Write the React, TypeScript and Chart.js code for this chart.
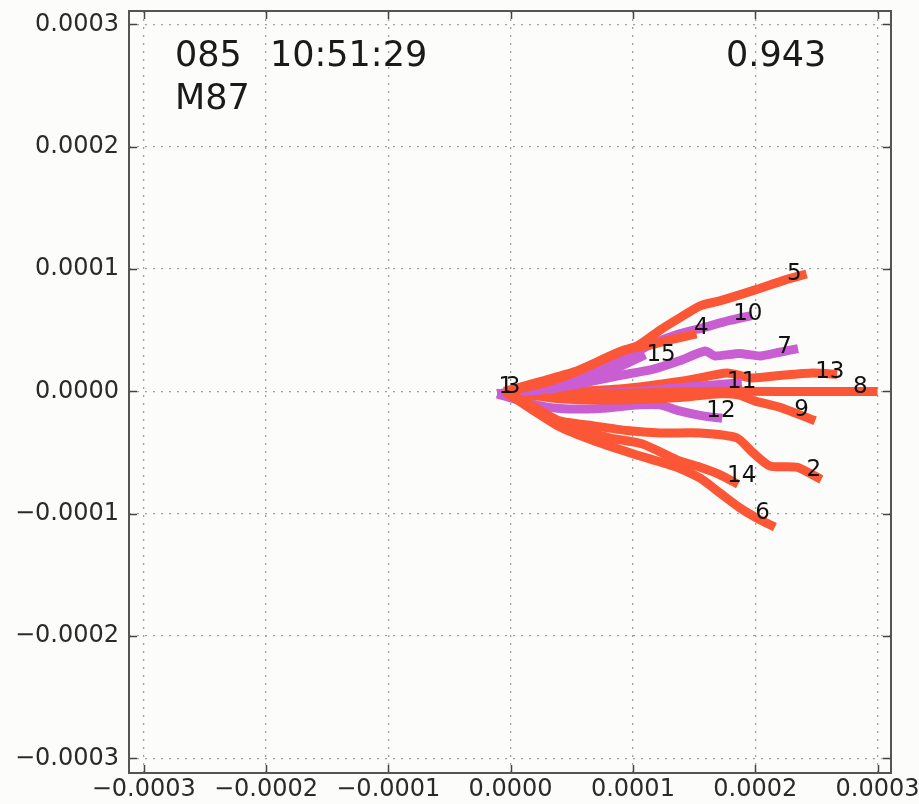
import React, { useEffect, useRef } from "react";
import { Chart, registerables } from "chart.js";

Chart.register(...registerables);

// values in units of 1e-4 (axis labels show the real value)
const tickValues = [-3, -2, -1, 0, 1, 2, 3];
const tickLabels = ["\u22120.0003", "\u22120.0002", "\u22120.0001", "0.0000", "0.0001", "0.0002", "0.0003"];

const RED = "#fb5636";
const PURPLE = "#c95ed3";

const b2x = [-0.05, 0.16, 0.4, 0.67, 0.95, 1.22, 1.55, 1.85, 1.98, 2.12, 2.34, 2.54];
const b2y = [0, -0.11, -0.24, -0.28, -0.32, -0.34, -0.34, -0.38, -0.5, -0.61, -0.62, -0.72];
const b4x = [-0.05, 0.28, 0.56, 0.77, 0.93, 1.14, 1.34, 1.52];
const b4y = [0, 0.07, 0.17, 0.27, 0.34, 0.38, 0.43, 0.47];
const b5x = [-0.05, 0.24, 0.52, 0.73, 0.89, 1.05, 1.22, 1.38, 1.55, 1.71, 2.0, 2.24, 2.42];
const b5y = [0, 0.08, 0.16, 0.25, 0.32, 0.38, 0.5, 0.6, 0.7, 0.74, 0.83, 0.91, 0.96];
const b6x = [-0.05, 0.16, 0.4, 0.67, 1.0, 1.36, 1.55, 1.71, 1.87, 2.02, 2.16];
const b6y = [0, -0.14, -0.29, -0.4, -0.51, -0.62, -0.71, -0.83, -0.95, -1.04, -1.11];
const b7x = [-0.11, 0.32, 0.65, 0.89, 1.16, 1.38, 1.59, 1.67, 1.87, 2.04, 2.2, 2.35];
const b7y = [-0.02, 0.02, 0.08, 0.13, 0.18, 0.25, 0.33, 0.29, 0.31, 0.29, 0.32, 0.35];
const b8x = [-0.05, 0.73, 1.55, 2.2, 3.0];
const b8y = [0, -0.02, 0, 0, 0];
const b9x = [-0.05, 0.4, 0.89, 1.38, 1.71, 1.87, 2.0, 2.2, 2.49];
const b9y = [0, -0.06, -0.07, -0.05, -0.02, -0.03, -0.08, -0.13, -0.24];
const b10x = [-0.11, 0.24, 0.56, 0.89, 1.14, 1.38, 1.57, 1.79, 1.97];
const b10y = [-0.02, 0.03, 0.11, 0.25, 0.38, 0.47, 0.52, 0.58, 0.62];
const b11x = [-0.11, 0.4, 0.89, 1.38, 1.63, 1.89];
const b11y = [-0.02, -0.02, -0.01, 0.03, 0.05, 0.07];
const b12x = [-0.11, 0.16, 0.4, 0.73, 1.05, 1.22, 1.38, 1.57, 1.73];
const b12y = [-0.02, -0.1, -0.14, -0.14, -0.11, -0.11, -0.16, -0.2, -0.22];
const b13x = [-0.05, 0.4, 0.89, 1.44, 1.77, 1.97, 2.2, 2.47, 2.67];
const b13y = [0, 0, 0.02, 0.09, 0.15, 0.11, 0.13, 0.15, 0.14];
const b14x = [-0.05, 0.16, 0.4, 0.81, 1.08, 1.36, 1.55, 1.71, 1.86];
const b14y = [0, -0.11, -0.26, -0.38, -0.43, -0.56, -0.62, -0.68, -0.76];
const b15x = [-0.11, 0.28, 0.65, 0.89, 1.1];
const b15y = [-0.02, 0.02, 0.1, 0.2, 0.3];

const seriesList = [
  { name: "2", xs: b2x, ys: b2y, color: RED },
  { name: "4", xs: b4x, ys: b4y, color: RED },
  { name: "5", xs: b5x, ys: b5y, color: RED },
  { name: "6", xs: b6x, ys: b6y, color: RED },
  { name: "7", xs: b7x, ys: b7y, color: PURPLE },
  { name: "8", xs: b8x, ys: b8y, color: RED },
  { name: "9", xs: b9x, ys: b9y, color: RED },
  { name: "10", xs: b10x, ys: b10y, color: PURPLE },
  { name: "11", xs: b11x, ys: b11y, color: PURPLE },
  { name: "12", xs: b12x, ys: b12y, color: PURPLE },
  { name: "13", xs: b13x, ys: b13y, color: RED },
  { name: "14", xs: b14x, ys: b14y, color: RED },
  { name: "15", xs: b15x, ys: b15y, color: PURPLE },
];

const labelTexts = ["1", "3", "5", "10", "4", "15", "7", "13", "11", "8", "12", "9", "14", "2", "6"];
const labelX = [-0.1, -0.04, 2.26, 1.82, 1.5, 1.11, 2.18, 2.49, 1.77, 2.8, 1.6, 2.32, 1.77, 2.42, 2.0];
const labelY = [-0.01, -0.01, 0.91, 0.58, 0.47, 0.25, 0.31, 0.11, 0.03, -0.01, -0.21, -0.2, -0.74, -0.69, -1.04];

const titleLeftA = "085";
const titleLeftB = "10:51:29";
const titleLeft2 = "M87";
const titleRight = "0.943";

const FONT = "'DejaVu Sans', 'Liberation Sans', sans-serif";

const decorPlugin = {
  id: "decor",
  afterDatasetsDraw(chart: any) {
    const ctx = chart.ctx;
    const xs = chart.scales.x;
    const ys = chart.scales.y;
    const area = chart.chartArea;
    ctx.save();
    ctx.beginPath();
    ctx.rect(area.left, area.top, area.right - area.left, area.bottom - area.top);
    ctx.clip();
    ctx.fillStyle = "#111";
    ctx.font = `23px ${FONT}`;
    ctx.textAlign = "left";
    ctx.textBaseline = "alphabetic";
    for (let i = 0; i < labelTexts.length; i++) {
      ctx.fillText(labelTexts[i], xs.getPixelForValue(labelX[i]), ys.getPixelForValue(labelY[i]));
    }
    ctx.fillStyle = "#1a1a1a";
    ctx.font = `35px ${FONT}`;
    ctx.fillText(titleLeftA, area.left + 46, area.top + 55);
    ctx.fillText(titleLeftB, area.left + 141, area.top + 55);
    ctx.fillText(titleLeft2, area.left + 46, area.top + 98);
    ctx.fillText(titleRight, area.left + 597, area.top + 55);
    ctx.restore();
  },
  afterDraw(chart: any) {
    const ctx = chart.ctx;
    const xs = chart.scales.x;
    const ys = chart.scales.y;
    const a = chart.chartArea;
    ctx.save();
    ctx.strokeStyle = "#444";
    ctx.lineWidth = 1.5;
    const T = 8;
    ctx.beginPath();
    for (const v of tickValues) {
      const px = Math.round(xs.getPixelForValue(v)) + 0.5;
      ctx.moveTo(px, a.bottom);
      ctx.lineTo(px, a.bottom - T);
      ctx.moveTo(px, a.top);
      ctx.lineTo(px, a.top + T);
      const py = Math.round(ys.getPixelForValue(v)) + 0.5;
      ctx.moveTo(a.left, py);
      ctx.lineTo(a.left + T, py);
      ctx.moveTo(a.right, py);
      ctx.lineTo(a.right - T, py);
    }
    ctx.stroke();
    ctx.lineWidth = 2;
    ctx.strokeStyle = "#555";
    ctx.strokeRect(a.left, a.top, a.right - a.left, a.bottom - a.top);
    ctx.restore();
  },
};

const bgPlugin = {
  id: "bg",
  beforeDraw(chart: any) {
    const ctx = chart.ctx;
    ctx.save();
    ctx.fillStyle = "#fcfcfa";
    ctx.fillRect(0, 0, chart.width, chart.height);
    ctx.restore();
  },
};

export default function App() {
  const ref = useRef<HTMLCanvasElement | null>(null);
  useEffect(() => {
    document.body.style.margin = "0";
    const canvas = ref.current;
    if (!canvas) return;
    const datasets = seriesList.map((s) => ({
      label: s.name,
      data: s.xs.map((x, i) => ({ x, y: s.ys[i] })),
      borderColor: s.color,
      backgroundColor: s.color,
      borderWidth: 9,
      borderCapStyle: "butt" as const,
      borderJoinStyle: "round" as const,
      showLine: true,
      pointRadius: 0,
      fill: false,
      tension: 0.2,
    }));
    const gridOpts = {
      color: "#a0a0a0",
      lineWidth: 1.3,
      drawTicks: false,
    };
    const tickCb = (v: any) => {
      const i = tickValues.indexOf(Number(v));
      return i >= 0 ? tickLabels[i] : "";
    };
    const chart = new Chart(canvas, {
      type: "scatter",
      data: { datasets },
      plugins: [bgPlugin, decorPlugin],
      options: {
        animation: false,
        responsive: false,
        devicePixelRatio: 1,
        layout: { padding: { top: 11, right: 28, left: 0, bottom: 0 } },
        plugins: { legend: { display: false }, tooltip: { enabled: false } },
        scales: {
          x: {
            type: "linear",
            min: -3.12,
            max: 3.11,
            afterBuildTicks: (s: any) => {
              s.ticks = tickValues.map((v) => ({ value: v }));
            },
            afterFit: (s: any) => {
              s.height = 31;
              s.paddingLeft = 0;
              s.paddingRight = 0;
            },
            grid: { ...gridOpts },
            border: { display: false, dash: [2, 6] },
            ticks: {
              autoSkip: false,
              maxRotation: 0,
              padding: 2,
              color: "#2a2a2a",
              font: { family: FONT, size: 24 },
              callback: tickCb,
            },
          },
          y: {
            type: "linear",
            min: -3.12,
            max: 3.11,
            afterBuildTicks: (s: any) => {
              s.ticks = tickValues.map((v) => ({ value: v }));
            },
            afterFit: (s: any) => {
              s.width = 129;
              s.paddingTop = 0;
              s.paddingBottom = 0;
            },
            grid: { ...gridOpts },
            border: { display: false, dash: [2, 6] },
            ticks: {
              autoSkip: false,
              padding: 10,
              color: "#2a2a2a",
              font: { family: FONT, size: 24 },
              callback: tickCb,
            },
          },
        },
      },
    });
    return () => chart.destroy();
  }, []);
  return <canvas ref={ref} width={919} height={804} style={{ display: "block" }} />;
}
